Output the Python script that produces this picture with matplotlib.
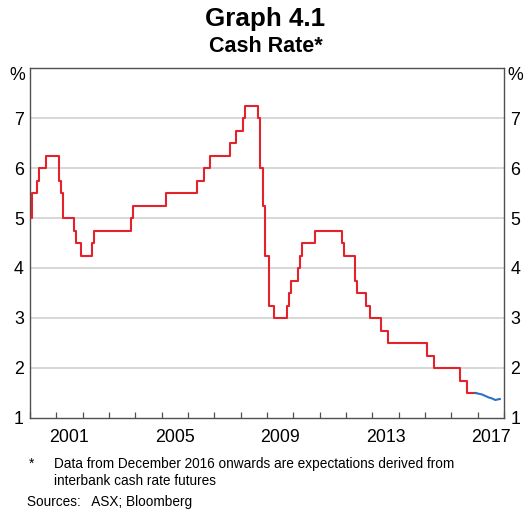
import numpy as np
import matplotlib.pyplot as plt

plt.rcParams['font.family'] = ['Liberation Sans', 'DejaVu Sans']

# -------------------------
# Data: cash rate target changes (decimal year of change, new level in %)
# -------------------------
change_dates = [2000.00, 2000.09, 2000.25, 2000.34, 2000.59, 2001.09, 2001.17,
                2001.25, 2001.67, 2001.75, 2001.92, 2002.34, 2002.42, 2003.84,
                2003.92, 2005.17, 2006.34, 2006.59, 2006.84, 2007.59, 2007.84,
                2008.09, 2008.17, 2008.67, 2008.75, 2008.84, 2008.92, 2009.09,
                2009.25, 2009.75, 2009.84, 2009.92, 2010.17, 2010.25, 2010.34,
                2010.84, 2011.84, 2011.92, 2012.34, 2012.42, 2012.75, 2012.92,
                2013.34, 2013.59, 2015.09, 2015.34, 2016.34, 2016.59]
cash_rate = [5.00, 5.50, 5.75, 6.00, 6.25, 5.75, 5.50,
             5.00, 4.75, 4.50, 4.25, 4.50, 4.75, 5.00,
             5.25, 5.50, 5.75, 6.00, 6.25, 6.50, 6.75,
             7.00, 7.25, 7.00, 6.00, 5.25, 4.25, 3.25,
             3.00, 3.25, 3.50, 3.75, 4.00, 4.25, 4.50,
             4.75, 4.50, 4.25, 3.75, 3.50, 3.25, 3.00,
             2.75, 2.50, 2.25, 2.00, 1.75, 1.50]
actual_end = 2016.92

# market expectations from December 2016 (monthly)
expect_dates = [2016.92, 2017.00, 2017.09, 2017.17, 2017.25, 2017.34, 2017.42,
                2017.50, 2017.59, 2017.67, 2017.75, 2017.84]
expect_rate = [1.50, 1.49, 1.48, 1.47, 1.45, 1.43, 1.41,
               1.40, 1.38, 1.36, 1.37, 1.38]

year_ticks = np.arange(2000, 2019)
label_years = [2001, 2005, 2009, 2013, 2017]

RED = "#e4222c"
BLUE = "#2a73c0"
AXIS = "#505050"

# -------------------------
# Figure
# -------------------------
fig = plt.figure(figsize=(5.31, 5.11), dpi=100)
ax = fig.add_axes([30 / 531, 1 - 418 / 511, 474 / 531, 350 / 511])

xs = change_dates + [actual_end]
ys = cash_rate + [cash_rate[-1]]
ax.step(xs, ys, where="post", color=RED, lw=1.5, zorder=3)
ax.plot(expect_dates, expect_rate, color=BLUE, lw=1.5, zorder=3)

ax.set_xlim(2000, 2018)
ax.set_ylim(1, 8)

# gridlines
for v in range(2, 8):
    ax.axhline(v, color="#d4d4d4", lw=1.3, zorder=1)

for s in ax.spines.values():
    s.set_color(AXIS)
    s.set_linewidth(1.0)

# x ticks: year boundaries (no labels), labels at mid-year
ax.set_xticks(year_ticks)
ax.set_xticklabels([])
ax.set_xticks([y + 0.5 for y in label_years], minor=True)
ax.set_xticklabels([str(y) for y in label_years], minor=True, fontsize=12.8)
ax.tick_params(axis="x", which="major", direction="in", length=4.5, width=0.9,
               color=AXIS, top=False)
ax.tick_params(axis="x", which="minor", length=0, pad=8)

# y labels on both sides, no tick marks
ax.set_yticks(range(1, 8))
ax.set_yticklabels([str(v) for v in range(1, 8)], fontsize=12.8)
ax.tick_params(axis="y", length=0, pad=4.5, left=True, right=True,
               labelleft=True, labelright=True)

fig.text(25 / 531, 1 - 76 / 511, "%", fontsize=12.8, ha="right", va="center")
fig.text(507 / 531, 1 - 76 / 511, "%", fontsize=12.8, ha="left", va="center")

# titles
fig.text(0.5, 1 - 19 / 511, "Graph 4.1", fontsize=18.7, fontweight="bold",
         ha="center", va="center")
fig.text(0.5, 1 - 46 / 511, "Cash Rate*", fontsize=15.5, fontweight="bold",
         ha="center", va="center")

# notes
fig.text(29 / 531, 1 - 464 / 511, "*", fontsize=9.8, ha="left", va="center")
fig.text(54 / 531, 1 - 464 / 511,
         "Data from December 2016 onwards are expectations derived from",
         fontsize=9.8, ha="left", va="center")
fig.text(54 / 531, 1 - 481 / 511, "interbank cash rate futures",
         fontsize=9.8, ha="left", va="center")
fig.text(27 / 531, 1 - 502 / 511, "Sources:   ASX; Bloomberg",
         fontsize=9.8, ha="left", va="center")

fig.savefig("out.png", dpi=100)
